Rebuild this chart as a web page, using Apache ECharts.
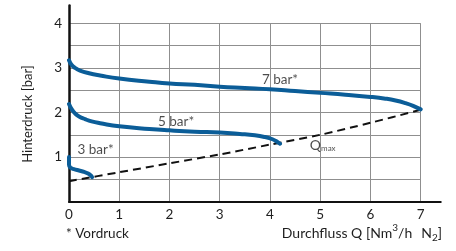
<!DOCTYPE html>
<html>
<head>
<meta charset="utf-8">
<script src="https://cdn.jsdelivr.net/npm/echarts@6/dist/echarts.min.js"></script>
<style>html,body{margin:0;padding:0;background:#fff}#c{width:456px;height:251px}</style>
</head>
<body>
<div id="c"></div>
<script>
// Data
var xTicks = [0, 1, 2, 3, 4, 5, 6, 7];
var yTicks = [1, 2, 3, 4];
var curve7 = [[0,3.17],[0.05,3.07],[0.12,3.0],[0.22,2.94],[0.4,2.88],[0.62,2.83],[1,2.76],[1.6,2.69],[2,2.65],[2.5,2.62],[3,2.58],[3.5,2.55],[4,2.52],[4.5,2.48],[5,2.44],[5.5,2.40],[6,2.35],[6.3,2.31],[6.5,2.27],[6.7,2.21],[6.85,2.15],[7,2.07]];
var curve5 = [[0,2.19],[0.05,2.08],[0.12,1.98],[0.2,1.91],[0.32,1.85],[0.45,1.80],[0.62,1.76],[1,1.69],[1.6,1.63],[2,1.60],[2.5,1.57],[3,1.55],[3.4,1.52],[3.7,1.49],[3.9,1.45],[4.05,1.40],[4.15,1.34],[4.2,1.30]];
var curve3 = [[0,1.0],[0,0.83],[0.03,0.76],[0.1,0.73],[0.2,0.70],[0.3,0.67],[0.38,0.63],[0.44,0.58],[0.46,0.55]];
var qmax = [[0,0.46],[1,0.66],[2,0.86],[3,1.06],[4,1.28],[5,1.50],[6,1.77],[7,2.06]];
var annotations = [
  {x: 4.2, y: 2.74, text: '7 bar*'},
  {x: 2.13, y: 1.79, text: '5 bar*'},
  {x: 0.53, y: 1.16, text: '3 bar*'}
];
var qmaxLabel = {x: 5.05, y: 1.27};

var blue = '#0b5d98';
var font = 'Lato, "Noto Sans", sans-serif';
var txt = '#1e1e1e';
var fs = 13;
var chart = echarts.init(document.getElementById('c'), null, {renderer: 'canvas'});

var pxPerX = 50.24, pxPerY = 44.6;
var left = 69, bottomPx = 201.7;

var option = {
  animation: false,
  textStyle: {fontFamily: font},
  grid: [
    {left: left, top: bottomPx - 4 * pxPerY, width: 7 * pxPerX, height: 4 * pxPerY},
    {left: left, top: bottomPx - 4.4 * pxPerY, width: 7.4 * pxPerX, height: 4.4 * pxPerY}
  ],
  xAxis: [
    {gridIndex: 0, type: 'value', min: 0, max: 7, interval: 1,
     axisLine: {show: false}, axisTick: {show: false},
     axisLabel: {color: txt, fontSize: 13.5, margin: 6, fontFamily: font,
       formatter: function(v){ return xTicks.indexOf(v) >= 0 ? String(v) : ''; }},
     splitLine: {show: true, lineStyle: {color: '#8f8f8f', width: 1}}},
    {gridIndex: 1, type: 'value', min: 0, max: 7.4,
     axisLine: {show: true, lineStyle: {color: '#111', width: 2}},
     axisTick: {show: false}, axisLabel: {show: false}, splitLine: {show: false}}
  ],
  yAxis: [
    {gridIndex: 0, type: 'value', min: 0, max: 4, interval: 0.5,
     axisLine: {show: false}, axisTick: {show: false},
     axisLabel: {color: txt, fontSize: 13.5, margin: 7, fontFamily: font,
       formatter: function(v){ return yTicks.indexOf(v) >= 0 ? String(v) : ''; }},
     splitLine: {show: true, lineStyle: {color: '#8f8f8f', width: 1}}},
    {gridIndex: 1, type: 'value', min: 0, max: 4.4,
     axisLine: {show: true, lineStyle: {color: '#111', width: 2.5}},
     axisTick: {show: false}, axisLabel: {show: false}, splitLine: {show: false}}
  ],
  series: [
    {type: 'line', xAxisIndex: 0, yAxisIndex: 0, data: qmax, smooth: 0.3, symbol: 'none', clip: false,
     lineStyle: {color: '#111', width: 2, type: [8, 5]}, z: 3},
    {type: 'line', xAxisIndex: 0, yAxisIndex: 0, data: curve7, smooth: 0.5, symbol: 'none', clip: false,
     lineStyle: {color: blue, width: 4, cap: 'round'}, z: 4},
    {type: 'line', xAxisIndex: 0, yAxisIndex: 0, data: curve5, smooth: 0.5, symbol: 'none', clip: false,
     lineStyle: {color: blue, width: 4, cap: 'round'}, z: 4},
    {type: 'line', xAxisIndex: 0, yAxisIndex: 0, data: curve3, smooth: 0.4, symbol: 'none', clip: false,
     lineStyle: {color: blue, width: 4, cap: 'round'}, z: 4},
    {type: 'scatter', xAxisIndex: 0, yAxisIndex: 0, symbolSize: 0, silent: true,
     data: annotations.map(function(a){ return {value: [a.x, a.y], name: a.text}; }),
     label: {show: true, position: 'inside', formatter: '{b}', color: txt, fontSize: 13.5, fontFamily: font}, z: 5},
    {type: 'scatter', xAxisIndex: 0, yAxisIndex: 0, symbolSize: 0, silent: true,
     data: [{value: [qmaxLabel.x, qmaxLabel.y]}],
     label: {show: true, position: 'inside', formatter: '{q|Q}{m|max}',
       rich: {q: {fontSize: 14, color: txt, fontFamily: font},
              m: {fontSize: 8, color: txt, fontFamily: font, verticalAlign: 'bottom', padding: [6, 0, 0, 0]}}}, z: 5}
  ],
  graphic: [
    {type: 'text', x: 28, y: 114, rotation: Math.PI / 2,
     style: {text: 'Hinterdruck [bar]', fill: txt, font: fs + 'px ' + font, align: 'center', verticalAlign: 'middle'}},
    {type: 'text', left: 66, top: 227, style: {text: '* Vordruck', fill: txt, font: '13.5px ' + font}},
    {type: 'text', right: 14, top: 223, style: {
      text: '{a|Durchfluss Q [Nm}{s|3}{a|/h}{n|N}{b|2}{a|]}',
      rich: {a: {fontSize: 14, fill: txt, fontFamily: font, verticalAlign: 'bottom'},
             n: {fontSize: 14, fill: txt, fontFamily: font, verticalAlign: 'bottom', padding: [0, 0, 0, 9]},
             s: {fontSize: 10, fill: txt, fontFamily: font, padding: [0, 0, 7, 0], verticalAlign: 'bottom'},
             b: {fontSize: 10, fill: txt, fontFamily: font, padding: [0, 0, -3, 0], verticalAlign: 'bottom'}}}}
  ]
};
chart.setOption(option);
</script>
</body>
</html>
